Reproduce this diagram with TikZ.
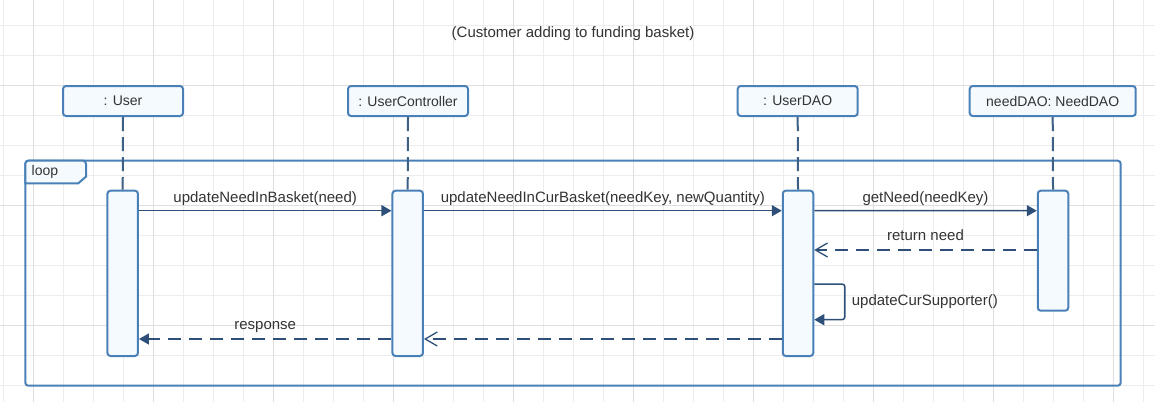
\documentclass[tikz,border=0pt]{standalone}
\usepackage{fontspec}
\setmainfont{Liberation Sans}
\usetikzlibrary{arrows.meta}
\definecolor{gridminor}{HTML}{EDEDED}
\definecolor{gridmajor}{HTML}{DFDFDF}
\definecolor{boxborder}{HTML}{4A80B8}
\definecolor{boxfill}{HTML}{F5FAFF}
\definecolor{msgcol}{HTML}{2E5078}
\definecolor{lifecol}{HTML}{3D6185}
\definecolor{txtcol}{HTML}{333333}
\tikzset{
  part/.style={draw=boxborder, fill=boxfill, line width=2pt, rounded corners=3pt,
    minimum width=120pt, minimum height=30pt, inner sep=0pt, text=txtcol,
    font=\fontsize{14}{16}\selectfont},
  actbar/.style={draw=boxborder, fill=boxfill, line width=2pt, rounded corners=3pt,
    minimum width=30.5pt, inner sep=0pt},
  lifeline/.style={draw=lifecol, line width=2pt, dash pattern=on 14pt off 6pt},
  msg/.style={draw=msgcol, line width=1.5pt, -{Triangle[length=10pt,width=11pt]}},
  ret/.style={draw=msgcol, line width=1.5pt, dash pattern=on 13pt off 8pt,
    -{Straight Barb[length=12pt,width=14pt,line width=1.3pt]}},
  retfill/.style={draw=msgcol, line width=1.5pt, dash pattern=on 13pt off 8pt,
    -{Triangle[length=10pt,width=11pt]}},
  lbl/.style={text=txtcol, font=\fontsize{15}{17}\selectfont, inner sep=0pt, anchor=base},
  framebox/.style={draw=boxborder, line width=2pt, rounded corners=3pt}
}
\begin{document}
\begin{tikzpicture}[x=1pt,y=-1pt]
\useasboundingbox (0,0) rectangle (1155,402);
\fill[white] (0,0) rectangle (1155,402);
% grid
\foreach \k in {0,...,38} \draw[gridminor, line width=1pt] ({3.3+30*\k},0) -- ++(0,402);
\foreach \k in {0,...,12} \draw[gridminor, line width=1pt] (0,{25+30*\k}) -- ++(1155,0);
\foreach \k in {0,...,9} \draw[gridmajor, line width=1pt] ({33.3+120*\k},0) -- ++(0,402);
\foreach \k in {0,...,2} \draw[gridmajor, line width=1pt] (0,{85+120*\k}) -- ++(1155,0);

% title
\node[lbl] (title) at (573,37) {(Customer adding to funding basket)};

% loop frame
\draw[framebox] (25.3,160.7) rectangle (1120.7,385.7);
\draw[draw=boxborder, fill=boxfill, line width=2pt, rounded corners=3pt]
  (25.3,183.3) -- (25.3,160.7) -- (86,160.7) [sharp corners] -- (86,176.7) -- (78.3,183.3) -- cycle;
\node[lbl, font=\fontsize{14}{16}\selectfont, anchor=base west] (looplbl) at (31.5,175) {loop};

% participants
\node[part] (pu) at (123,101) {: User};
\node[part] (pc) at (408,101) {: UserController};
\node[part] (pd) at (797.7,101) {: UserDAO};
\node[part, minimum width=166pt] (pn) at (1052.7,101) {needDAO: NeedDAO};

% activation bars
\node[actbar, minimum height=165.3pt] (au) at (122.7,273.35) {};
\node[actbar, minimum height=165.3pt] (ac) at (407.7,273.35) {};
\node[actbar, minimum height=165.3pt] (ad) at (798,273.35) {};
\node[actbar, minimum height=120pt] (an) at (1053,250.7) {};

% lifelines
\draw[lifeline] (pu.south) -- (au.north);
\draw[lifeline] (pc.south) -- (ac.north);
\draw[lifeline] (pd.south) -- (ad.north);
\draw[lifeline] (pn.south) -- (an.north);

% messages
\draw[msg] ([yshift=-21pt]au.north east) -- ([yshift=-21pt]ac.north west)
  node[lbl, midway, yshift=8.5pt] {updateNeedInBasket(need)};
\draw[msg] ([yshift=-21pt]ac.north east) -- ([yshift=-21pt]ad.north west)
  node[lbl, midway, yshift=8.5pt] {updateNeedInCurBasket(needKey, newQuantity)};
\draw[msg] ([yshift=-21pt]ad.north east) -- ([yshift=-21pt]an.north west)
  node[lbl, midway, yshift=8.5pt] {getNeed(needKey)};
\draw[ret] ([yshift=-60.3pt]an.north west) -- ([yshift=-60.3pt]ad.north east)
  node[lbl, midway, yshift=9.3pt] {return need};
\draw[msg, rounded corners=3pt] ([yshift=-94.3pt]ad.north east) -| ([xshift=30.7pt,yshift=-130pt]ad.north east) -- ([yshift=-130pt]ad.north east);
\node[lbl, anchor=base west] (selflbl) at ([xshift=37.4pt,yshift=-115.3pt]ad.north east) {updateCurSupporter()};
\draw[ret] ([yshift=-149.3pt]ad.north west) -- ([yshift=-149.3pt]ac.north east);
\draw[retfill] ([yshift=-149.3pt]ac.north west) -- ([yshift=-149.3pt]au.north east)
  node[lbl, midway, yshift=9.3pt] {response};
\end{tikzpicture}
\end{document}
